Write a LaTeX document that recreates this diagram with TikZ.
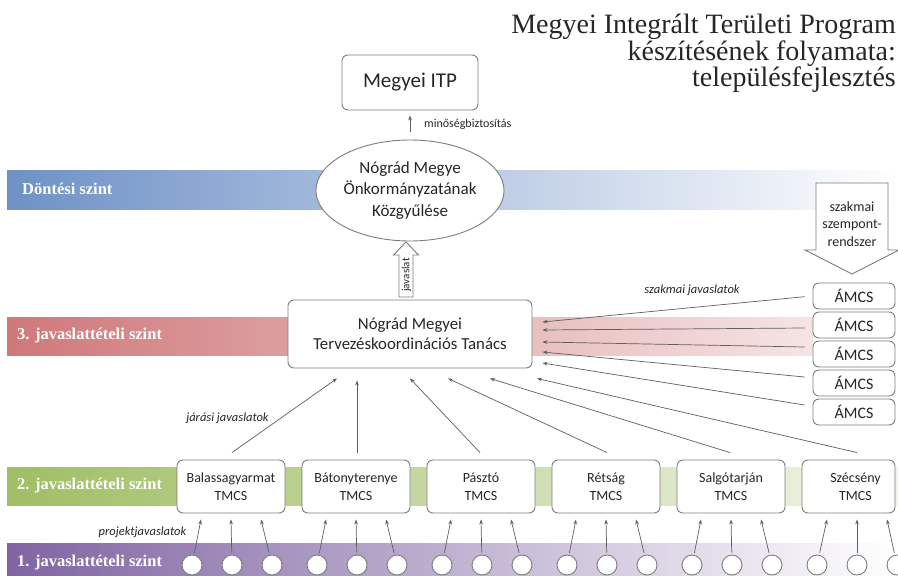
\documentclass[tikz,border=0pt]{standalone}
\usepackage{fontspec}
\setmainfont{Carlito}
\newfontfamily\serifT{Liberation Serif}
\usetikzlibrary{arrows.meta,shapes.geometric,calc}
\definecolor{ink}{RGB}{38,38,38}
\definecolor{boxgray}{RGB}{125,125,125}
\definecolor{linegray}{RGB}{95,95,95}
\definecolor{blueL}{RGB}{110,145,198}
\definecolor{redL}{RGB}{207,120,122}
\definecolor{redR}{RGB}{246,228,228}
\definecolor{greenL}{RGB}{160,190,100}
\definecolor{greenR}{RGB}{240,245,232}
\definecolor{purpleL}{RGB}{128,100,162}
\begin{document}
\begin{tikzpicture}[x=1pt,y=-1pt,
  box/.style={draw=boxgray,line width=0.9pt,fill=white,rounded corners=6pt,text=ink,align=center,inner sep=0pt},
  tmcs/.style={box,minimum width=108pt,minimum height=53pt,font=\fontsize{14}{18}\selectfont},
  amcs/.style={box,minimum width=82pt,minimum height=26pt,font=\fontsize{16}{18}\selectfont},
  circ/.style={circle,draw=boxgray,line width=0.9pt,fill=white,minimum size=20pt,inner sep=0pt},
  conn/.style={draw=linegray,line width=0.7pt,-{Stealth[length=5pt,width=3.6pt]}},
  bandlbl/.style={font=\serifT\bfseries\fontsize{16.5}{18}\selectfont,text=white,anchor=west,inner sep=0pt},
  lbl/.style={font=\itshape\fontsize{12.5}{14}\selectfont,text=ink,inner sep=0pt},
  ttl/.style={font=\serifT\fontsize{28}{30}\selectfont,text=ink,anchor=base east,inner sep=0pt},
  blockarrow/.style={draw=boxgray,line width=0.9pt,fill=white,line join=miter}
]
\useasboundingbox (0,0) rectangle (898,576);
\fill[white] (0,0) rectangle (898,576);

% bands
\fill[left color=blueL,right color=white] (7,170) rectangle (898,209);
\fill[left color=redL,right color=redR] (7,317) rectangle (813,355);
\fill[left color=greenL,right color=greenR] (7,467) rectangle (898,505);
\fill[left color=purpleL,right color=white] (7,543) rectangle (898,576);
\node[bandlbl] (l0) at (22,189) {Döntési szint};
\node[bandlbl] (l3) at (17,336) {3. javaslattételi szint};
\node[bandlbl] (l2) at (17,486) {2. javaslattételi szint};
\node[bandlbl] (l1) at (17,563) {1. javaslattételi szint};

% title
\node[ttl] (t1) at (896,33) {Megyei Integrált Területi Program};
\node[ttl] (t2) at (896,60) {készítésének folyamata:};
\node[ttl] (t3) at (896,86) {településfejlesztés};

% top
\node[box,minimum width=136pt,minimum height=55pt,font=\fontsize{21}{24}\selectfont] (itp) at (410,82.5) {Megyei ITP};
\node[ellipse,draw=boxgray,line width=0.9pt,fill=white,minimum width=176pt,minimum height=101pt,inner sep=0pt,align=center,text=ink,font=\fontsize{17}{21.7}\selectfont] (kgy) at (410,190.5) {Nógrád Megye\\Önkormányzatának\\Közgyűlése};
\draw[conn,shorten <=8pt,shorten >=5pt] (kgy) -- (itp);
\node[anchor=west,inner sep=0pt,text=ink,font=\fontsize{12}{14}\selectfont] (mb) at (424,124) {minőségbiztosítás};

% Tervezeskoordinacios Tanacs
\node[box,minimum width=244pt,minimum height=68pt,font=\fontsize{16.8}{20}\selectfont] (tc) at (410,334) {Nógrád Megyei\\Tervezéskoordinációs Tanács};

% javaslat block arrow
\draw[blockarrow] (399,297) -- (399,255) -- (393.5,255) -- (406,242) -- (418.5,255) -- (413,255) -- (413,297) -- cycle;
\node[rotate=90,inner sep=0pt,text=ink,font=\fontsize{11}{12}\selectfont] (jav) at (406.5,275) {javaslat};

% szakmai szempontrendszer block arrow
\draw[blockarrow] (816,183) -- (888,183) -- (888,250) -- (899,250) -- (852,274) -- (805,250) -- (816,250) -- cycle;
\node[align=center,inner sep=0pt,text=ink,font=\fontsize{14}{17.5}\selectfont] (szr) at (852,224) {szakmai\\szempont-\\rendszer};

% AMCS boxes
\foreach \i in {1,...,5}{
  \node[amcs] (a\i) at (854,{296+29*(\i-1)}) {ÁMCS};
}
\foreach \i/\o/\d in {1/0.7/-12,2/3/-4,3/-7/8,4/-6/18,5/-7/29}{
  \draw[conn] ($(a\i.west)+(-8,\o)$) -- ($(tc.east)+(10,\d)$);
}
\node[lbl] (szj) at (692,290) {szakmai javaslatok};

% TMCS boxes
\node[tmcs] (b1) at (231,486.5) {Balassagyarmat\\TMCS};
\node[tmcs] (b2) at (356,486.5) {Bátonyterenye\\TMCS};
\node[tmcs] (b3) at (481,486.5) {Pásztó\\TMCS};
\node[tmcs] (b4) at (606,486.5) {Rétság\\TMCS};
\node[tmcs] (b5) at (731,486.5) {Salgótarján\\TMCS};
\node[tmcs,minimum width=93pt] (b6) at (848.5,486.5) {\hspace*{14pt}Szécsény\\\hspace*{14pt}TMCS};

\draw[conn] ($(b1.north)+(1,-7)$) -- ($(tc.south)+(-73,10)$);
\draw[conn] ($(b2.north)+(1,-7)$) -- ($(tc.south)+(-53,12)$);
\draw[conn] ($(b3.north)+(-1,-7)$) -- ($(tc.south)+(0,10)$);
\draw[conn] ($(b4.north)+(1,-7)$) -- ($(tc.south)+(38,10)$);
\draw[conn] ($(b5.north)+(-1,-7)$) -- ($(tc.south)+(80,10)$);
\draw[conn] ($(b6.north)+(8.5,-7)$) -- ($(tc.south)+(127,10)$);
\node[lbl] (jj) at (227.5,418) {járási javaslatok};

% circles (project proposals)
\foreach \g/\b/\o in {0/b1/0,1/b2/0,2/b3/0,3/b4/0,4/b5/0,5/b6/8.5}{
  \foreach \k in {0,1,2}{
    \node[circ] (c\g\k) at ({192+125*\g+40*\k},565) {};
    \draw[conn,shorten <=2pt] (c\g\k) -- ($(\b.south)+({\o+30*(\k-1)},6)$);
  }
}
\node[lbl] (pj) at (142.5,532) {projektjavaslatok};
\end{tikzpicture}
\end{document}
